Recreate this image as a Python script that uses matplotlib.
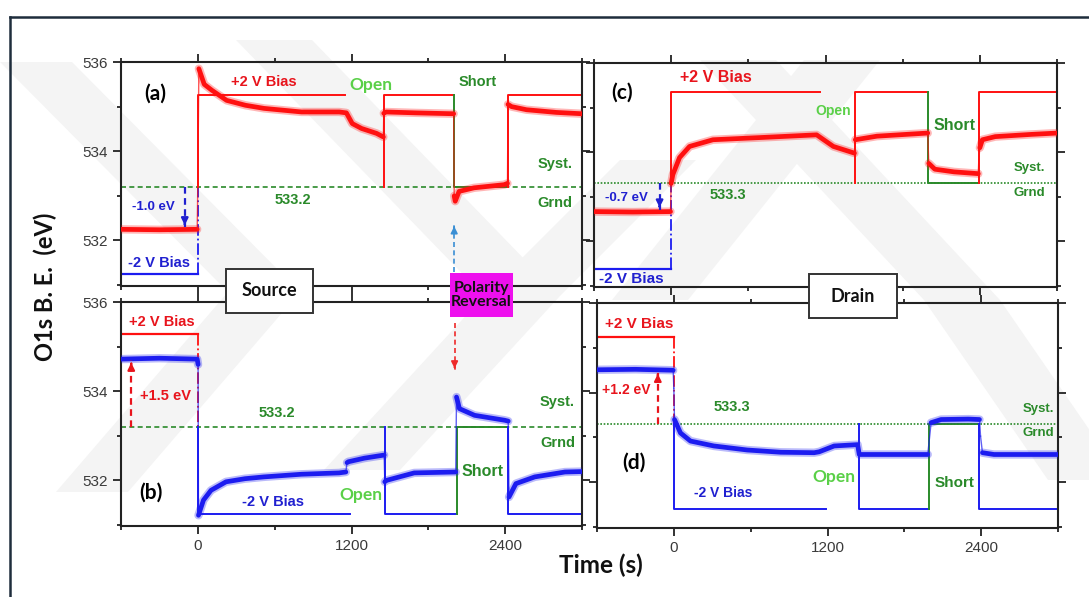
import matplotlib
matplotlib.use('Agg')
import matplotlib.pyplot as plt
from matplotlib.patches import Rectangle, Polygon
from matplotlib.lines import Line2D
from matplotlib.ticker import FixedLocator, NullFormatter

# ---- O1s binding energy traces (time in s, BE in eV) ----
# (a) source, red trace
a_t = [-600, -300, -5, 0, 8, 50, 108, 225, 372, 518, 811, 1104, 1160, 1206, 1279, 1396, 1449,
       1452, 1470, 1700, 1998, 2002, 2010, 2040, 2157, 2391, 2418, 2422, 2450, 2567, 2800, 3000]
a_be = [532.25, 532.24, 532.25, 533.3, 535.85, 535.5, 535.37, 535.14, 535.03, 534.96, 534.88, 534.88,
        534.86, 534.62, 534.51, 534.4, 534.32, 534.85, 534.88, 534.86, 534.84, 533.0, 532.88, 533.1,
        533.18, 533.25, 533.28, 535.05, 535.0, 534.93, 534.87, 534.84]
# (b) source, blue trace
b_t = [-600, -300, -5, 2, 5, 44, 103, 220, 368, 515, 809, 1103, 1156, 1165, 1176, 1300, 1455,
       1460, 1470, 1690, 2014, 2020, 2043, 2161, 2396, 2424, 2430, 2484, 2631, 2867, 3000]
b_be = [534.72, 534.74, 534.72, 534.6, 531.22, 531.56, 531.78, 531.97, 532.04, 532.08, 532.14, 532.17,
        532.19, 532.4, 532.42, 532.5, 532.57, 531.97, 532.0, 532.17, 532.19, 533.87, 533.61, 533.46,
        533.35, 533.33, 531.63, 531.93, 532.08, 532.19, 532.2]
# (c) drain, red trace
c_t = [-600, -300, -5, 0, 13, 65, 143, 325, 700, 1131, 1261, 1425, 1432, 1600, 1995, 2003, 2050,
       2200, 2388, 2392, 2400, 2420, 2520, 2800, 3000]
c_be = [532.67, 532.66, 532.67, 533.3, 533.5, 533.88, 534.13, 534.28, 534.33, 534.39, 534.13, 533.98,
        534.28, 534.36, 534.43, 533.75, 533.62, 533.56, 533.52, 533.83, 534.1, 534.28, 534.35, 534.4, 534.43]
# (d) drain, blue trace
d_t = [-600, -300, -5, 0, 5, 52, 130, 313, 574, 835, 1096, 1135, 1252, 1435, 1448, 1700, 1983,
       2009, 2087, 2300, 2387, 2395, 2410, 2500, 3000]
d_be = [534.51, 534.52, 534.5, 534.1, 533.4, 533.1, 532.92, 532.81, 532.72, 532.67, 532.66, 532.68,
        532.81, 532.84, 532.62, 532.62, 532.62, 533.33, 533.4, 533.41, 533.4, 533.03, 532.66, 532.62, 532.62]

# bias schedule per panel: levels in eV, open / short windows in s
sched = {
    'a': dict(pre=531.26, bias=535.25, grnd=533.2, open=(1150, 1450), short=(2000, 2420)),
    'b': dict(pre=535.29, bias=531.24, grnd=533.2, open=(1190, 1460), short=(2020, 2426)),
    'c': dict(pre=531.38, bias=535.35, grnd=533.3, open=(1160, 1430), short=(2000, 2392)),
    'd': dict(pre=535.25, bias=531.4, grnd=533.3, open=(1187, 1448), short=(1990, 2385)),
}
shift = {'a': '-1.0 eV', 'b': '+1.5 eV', 'c': '-0.7 eV', 'd': '+1.2 eV'}

W, H = 1089, 597
RED, BLUE = '#ff1010', '#1c1cf0'
TRED, TBLUE = '#e8141c', '#2020d0'
GREEN, LGREEN = '#2a8a2a', '#5ad048'
NUM = 'Liberation Sans'
CAL = 'Lato'

fig = plt.figure(figsize=(W / 100, H / 100), dpi=100)
fig.patch.set_facecolor('white')


def px_rect(x0, y0, x1, y1):
    return [x0 / W, 1 - y1 / H, (x1 - x0) / W, (y1 - y0) / H]


# faint watermark bands behind everything
bands = [
    [(0, 62), (72, 62), (300, 292), (228, 292)],
    [(228, 292), (300, 292), (128, 492), (56, 492)],
    [(236, 40), (312, 40), (560, 296), (484, 296)],
    [(484, 296), (560, 296), (400, 470), (324, 470)],
    [(560, 296), (484, 296), (620, 160), (696, 160)],
    [(700, 60), (776, 60), (1000, 300), (1124, 480), (1048, 480), (924, 300)],
    [(612, 300), (688, 300), (880, 60), (804, 60)],
]
for b in bands:
    fig.add_artist(Polygon([(x / W, 1 - y / H) for x, y in b], closed=True,
                           facecolor='#f4f4f4', edgecolor='none', zorder=-5))

ax_a = fig.add_axes(px_rect(121, 62, 582, 286))
ax_b = fig.add_axes(px_rect(121, 302, 582, 526))
ax_c = fig.add_axes(px_rect(594, 63, 1057, 287))
ax_d = fig.add_axes(px_rect(597, 303, 1058, 528))

for key, ax in zip('abcd', [ax_a, ax_b, ax_c, ax_d]):
    ax.set_facecolor('none')
    ax.set_xlim(-600, 3000)
    ax.set_ylim(530.98, 536)
    ax.xaxis.set_major_locator(FixedLocator([0, 1200, 2400]))
    ax.xaxis.set_minor_locator(FixedLocator([-600, 600, 1800, 3000]))
    ax.yaxis.set_major_locator(FixedLocator([532, 534, 536]))
    ax.yaxis.set_minor_locator(FixedLocator([531, 533, 535]))
    ax.tick_params(which='both', direction='out', top=True, right=True, width=1.3, color='#222222',
                   labelsize=11, labelcolor='#3a3a3a')
    ax.tick_params(which='major', length=6)
    ax.tick_params(which='minor', length=3)
    for s in ax.spines.values():
        s.set_linewidth(1.5)
        s.set_color('#222222')
    for lab in ax.get_xticklabels() + ax.get_yticklabels():
        lab.set_fontfamily(NUM)
    if key in 'ac':
        ax.xaxis.set_major_formatter(NullFormatter())
    if key in 'cd':
        ax.yaxis.set_major_formatter(NullFormatter())


def trace(ax, t, be, col):
    # flat stretches drawn as a thick fuzzy band, fast jumps as thin strokes
    def band(rt, rv):
        ax.plot(rt, rv, color=col, lw=6.0, alpha=0.3, solid_capstyle='round', zorder=3)
        ax.plot(rt, rv, color=col, lw=3.4, solid_capstyle='round', zorder=4)

    run_t, run_v = [t[0]], [be[0]]
    for i in range(1, len(t)):
        steep = abs(be[i] - be[i - 1]) / max(t[i] - t[i - 1], 1) > 0.02
        if steep:
            if len(run_t) > 1:
                band(run_t, run_v)
            ax.plot(t[i - 1:i + 1], be[i - 1:i + 1], color=col, lw=1.0, alpha=0.7, zorder=3)
            run_t, run_v = [t[i]], [be[i]]
        else:
            run_t.append(t[i])
            run_v.append(be[i])
    if len(run_t) > 1:
        band(run_t, run_v)


trace(ax_a, a_t, a_be, RED)
trace(ax_b, b_t, b_be, BLUE)
trace(ax_c, c_t, c_be, RED)
trace(ax_d, d_t, d_be, BLUE)


def bias_steps(ax, s, on_col, pre_col, ground_style):
    lvl, g = s['bias'], s['grnd']
    o0, o1 = s['open']
    s0, s1 = s['short']
    ax.plot([-600, 0], [s['pre'], s['pre']], color=pre_col, lw=1.6, zorder=2)
    ax.plot([0, 0], [s['pre'], g], color=pre_col, lw=1.3, ls='-.', zorder=2)
    ax.plot([0, 0, o0], [g, lvl, lvl], color=on_col, lw=1.4, zorder=2)
    ax.plot([o1, o1, s0], [g, lvl, lvl], color=on_col, lw=1.4, zorder=2)
    ax.plot([s0, s0, s1], [lvl, g, g], color=GREEN, lw=1.4, zorder=2)
    ax.plot([s1, s1, 3000], [g, lvl, lvl], color=on_col, lw=1.4, zorder=2)
    ax.axhline(g, color=GREEN, lw=1.2, ls=ground_style, zorder=1)


bias_steps(ax_a, sched['a'], RED, BLUE, (0, (3, 2)))
bias_steps(ax_b, sched['b'], BLUE, RED, (0, (3, 2)))
bias_steps(ax_c, sched['c'], RED, BLUE, (0, (1, 1)))
bias_steps(ax_d, sched['d'], BLUE, RED, (0, (1, 1)))


def dashed_arrow(ax, x, y0, y1, col, lw=1.6):
    ax.plot([x, x], [y0, y1], color=col, lw=lw, ls=(0, (3, 2)), zorder=5)
    ax.annotate('', xy=(x, y1), xytext=(x, y1 - 0.15 * (1 if y1 > y0 else -1)),
                arrowprops=dict(arrowstyle='-|>', color=col, lw=lw, mutation_scale=10), zorder=6)


dashed_arrow(ax_a, -102, 533.2, 532.28, TBLUE)
dashed_arrow(ax_b, -520, 533.2, 534.7, TRED)
dashed_arrow(ax_c, -90, 533.3, 532.7, TBLUE)
dashed_arrow(ax_d, -125, 533.3, 534.48, TRED)
# polarity reversal markers
dashed_arrow(ax_a, 2002, 531.3, 532.38, '#3a8fd4', lw=1.2)
dashed_arrow(ax_b, 2005, 535.53, 534.45, '#ee2a2a', lw=1.2)


def txt(ax, x, y, s, col, size=10.5, fam=NUM):
    ax.text(x, y, s, color=col, fontsize=size, fontweight='bold', family=fam,
            ha='center', va='center', zorder=7)


# panel (a)
txt(ax_a, -330, 535.3, '(a)', 'black', 15, CAL)
txt(ax_a, 518, 535.55, '+2 V Bias', TRED)
txt(ax_a, 1352, 535.49, 'Open', LGREEN, 12.5, CAL)
txt(ax_a, 2186, 535.55, 'Short', GREEN)
txt(ax_a, 2787, 533.72, 'Syst.', GREEN)
txt(ax_a, 2787, 532.83, 'Grnd', GREEN)
txt(ax_a, 746, 532.9, '533.2', GREEN)
txt(ax_a, -345, 532.75, shift['a'], TBLUE, 9.5)
txt(ax_a, -300, 531.5, '-2 V Bias', TBLUE)
# panel (b)
txt(ax_b, -368, 531.73, '(b)', 'black', 15, CAL)
txt(ax_b, -279, 535.55, '+2 V Bias', TRED)
txt(ax_b, -250, 533.89, shift['b'], TRED)
txt(ax_b, 617, 533.51, '533.2', GREEN)
txt(ax_b, 2808, 533.76, 'Syst.', GREEN)
txt(ax_b, 2808, 532.85, 'Grnd', GREEN)
txt(ax_b, 2220, 532.21, 'Short', GREEN, 11.5)
txt(ax_b, 1273, 531.67, 'Open', LGREEN, 12.5, CAL)
txt(ax_b, 588, 531.51, '-2 V Bias', TBLUE)
# panel (c)
txt(ax_c, -382, 535.34, '(c)', 'black', 15, CAL)
txt(ax_c, 346, 535.68, '+2 V Bias', TRED, 11.5)
txt(ax_c, 1256, 534.93, 'Open', LGREEN, 10)
txt(ax_c, 2202, 534.6, 'Short', GREEN, 11.5)
txt(ax_c, 2782, 533.65, 'Syst.', GREEN, 9.5)
txt(ax_c, 2782, 533.08, 'Grnd', GREEN, 9.5)
txt(ax_c, 442, 533.04, '533.3', GREEN)
txt(ax_c, -351, 532.97, shift['c'], TBLUE, 9.5)
txt(ax_c, -312, 531.17, '-2 V Bias', TBLUE, 11)
# panel (d)
txt(ax_d, -274, 535.54, '+2 V Bias', TRED, 11)
txt(ax_d, -370, 534.06, shift['d'], TRED, 10)
txt(ax_d, 457, 533.68, '533.3', GREEN)
txt(ax_d, 2849, 533.64, 'Syst.', GREEN, 9.5)
txt(ax_d, 2849, 533.1, 'Grnd', GREEN, 9.5)
txt(ax_d, -313, 532.43, '(d)', 'black', 15, CAL)
txt(ax_d, 1252, 532.11, 'Open', LGREEN, 12.5, CAL)
txt(ax_d, 2191, 531.99, 'Short', GREEN, 11)
txt(ax_d, 386, 531.76, '-2 V Bias', TBLUE, 10)

# label boxes straddling the panels
for (x0, y0, x1, y1), label, face, edge, size in [
        ((226, 269, 313, 313), 'Source', 'white', '#333333', 13),
        ((809, 274, 897, 318), 'Drain', 'white', '#333333', 13),
        ((450, 273, 513, 317), 'Polarity\nReversal', '#ee10ee', 'none', 11.5)]:
    r = px_rect(x0, y0, x1, y1)
    fig.add_artist(Rectangle((r[0], r[1]), r[2], r[3], transform=fig.transFigure,
                             facecolor=face, edgecolor=edge, lw=1.4, zorder=10))
    fig.text(r[0] + r[2] / 2, r[1] + r[3] / 2, label, ha='center', va='center',
             fontsize=size, fontweight='bold', family=CAL, color='#111111',
             linespacing=1.0, zorder=11)

fig.text(45 / W, 1 - 287 / H, 'O1s B. E.  (eV)', rotation=90, ha='center', va='center',
         fontsize=17, fontweight='bold', family=CAL, color='#111111')
fig.text(601 / W, 1 - 565 / H, 'Time (s)', ha='center', va='center',
         fontsize=17.5, fontweight='bold', family=CAL, color='#111111')

# outer frame
fig.add_artist(Line2D([10 / W, 10 / W], [0, 1 - 17 / H], color='#1e2d3c', lw=1.8))
fig.add_artist(Line2D([10 / W, 1], [1 - 17 / H, 1 - 17 / H], color='#1e2d3c', lw=1.8))

fig.savefig('out.png', dpi=100)
